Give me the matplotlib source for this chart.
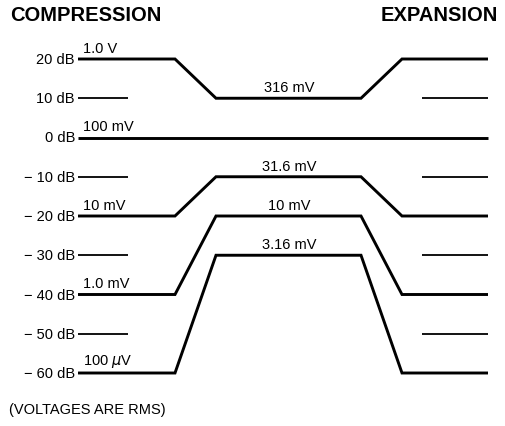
import matplotlib
matplotlib.use("Agg")
import matplotlib.pyplot as plt
from matplotlib import font_manager

names = sorted({f.name for f in font_manager.fontManager.ttflist})
print([n for n in names if 'Narrow' in n or 'Condensed' in n])

# ---- data ----
level_db = [20, 10, 0, -10, -20, -30, -40, -50, -60]
level_labels = ["20 dB", "10 dB", "0 dB", "\u2212 10 dB", "\u2212 20 dB",
                "\u2212 30 dB", "\u2212 40 dB", "\u2212 50 dB", "\u2212 60 dB"]
input_db = [20, 0, -20, -40, -60]
compressed_db = [10, 0, -10, -20, -30]
input_volts = ["1.0 V", "100 mV", "10 mV", "1.0 mV", "100 $\\mu$V"]
compressed_volts = ["316 mV", None, "31.6 mV", "10 mV", "3.16 mV"]
minor_db = [10, -10, -30, -50]

# ---- layout (pixel-like x coordinates) ----
x_start, x_knee1, x_mid0, x_mid1, x_knee2, x_end = 78, 175, 216, 361, 402, 488
short_left = (78, 128)
short_right = (422, 488)

narrow = 'Liberation Sans Narrow' if 'Liberation Sans Narrow' in names else 'Liberation Sans'
plt.rcParams['font.family'] = ['Liberation Sans', 'DejaVu Sans']
fig = plt.figure(figsize=(5.05, 4.27), dpi=100)
ax = fig.add_axes([0, 0, 1, 1])
ax.set_xlim(0, 505)
px = 3.925  # pixels per dB
ax.set_ylim(20 - (427 - 60) / px, 20 + 60 / px)
ax.axis('off')

lw_main = 2.1
lw_short = 1.3
for d_in, d_mid in zip(input_db, compressed_db):
    xs = [x_start, x_knee1, x_mid0, x_mid1, x_knee2, x_end]
    ys = [d_in, d_in, d_mid, d_mid, d_in, d_in]
    ax.plot(xs, ys, color='black', lw=lw_main, solid_joinstyle='miter',
            solid_capstyle='butt')

for d in minor_db:
    ax.plot(short_left, [d, d], color='black', lw=lw_short, solid_capstyle='butt')
    ax.plot(short_right, [d, d], color='black', lw=lw_short, solid_capstyle='butt')

fs = 12 if narrow != 'Liberation Sans' else 10.5
fam = [narrow, 'DejaVu Sans']
for d, lab in zip(level_db, level_labels):
    ax.text(75, d, lab, ha='right', va='center', fontsize=fs, family=fam)

for d, lab in zip(input_db, input_volts):
    ax.annotate(lab, (83, d), xytext=(0, 3), textcoords='offset points',
                ha='left', va='bottom', fontsize=fs, family=fam)

for d, lab in zip(compressed_db, compressed_volts):
    if lab:
        ax.annotate(lab, (289, d), xytext=(0, 3), textcoords='offset points',
                    ha='center', va='bottom', fontsize=fs, family=fam)

ax.text(10, 20 + (60 - 15) / px, "COMPRESSION", ha='left', va='center',
        fontsize=14.5, fontweight='bold')
ax.text(498, 20 + (60 - 15) / px, "EXPANSION", ha='right', va='center',
        fontsize=14.5, fontweight='bold')
ax.text(9, 20 - (410 - 60) / px, "(VOLTAGES ARE RMS)", ha='left', va='center',
        fontsize=fs, family=fam)

fig.savefig("out.png", dpi=100)
